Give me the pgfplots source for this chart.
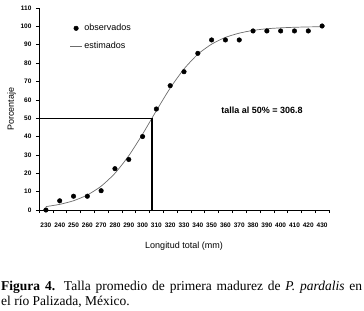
\documentclass[border=0pt]{standalone}
\usepackage{fontspec}
\setmainfont{Liberation Sans}
\newfontfamily\capfont{Liberation Serif}
\usepackage{pgfplots}
\pgfplotsset{compat=1.18}
\begin{document}
\begin{tikzpicture}[x=1bp,y=1bp]
\path[use as bounding box] (0,0) rectangle (364,311);
\begin{axis}[
  at={(39bp,101bp)}, anchor=south west,
  scale only axis, width=290bp, height=202bp,
  xmin=225, xmax=435, ymin=0, ymax=110,
  axis lines*=left,
  axis line style={line width=0.6bp},
  tick align=outside,
  major tick length=3bp,
  tick style={black, line width=0.5bp},
  xtick={225,235,...,435},
  x tick label as interval,
  xticklabels={230,240,250,260,270,280,290,300,310,320,330,340,350,360,370,380,390,400,410,420,430},
  ytick={0,10,...,110},
  /pgf/number format/assume math mode=true,
  ticklabel style={font=\fontsize{6.5bp}{7bp}\selectfont\bfseries},
  xticklabel style={yshift=-6bp},
  yticklabel style={xshift=-1bp},
  xlabel={Longitud total (mm)},
  ylabel={Porcentaje},
  label style={font=\fontsize{9bp}{10bp}\selectfont},
  xlabel style={yshift=-8bp},
  ylabel style={yshift=-2bp},
  legend style={draw=none, fill=none, at={(0.095,0.94)}, anchor=north west,
    font=\fontsize{9bp}{10bp}\selectfont, row sep=6bp,
    legend cell align=left},
  legend image code/.code={\draw[#1] (0bp,0bp) -- (12bp,0bp);},
  clip=false,
]
\addplot[only marks, mark=*, mark size=2.3bp, black,
  legend image code/.code={\draw[black, fill=black] (6bp,0bp) circle (2.3bp);}] coordinates {
 (230,0) (240,5) (250,7.5) (260,7.5) (270,10.5) (280,22.5) (290,27.5) (300,40)
 (310,55) (320,67.7) (330,75.3) (340,85.3) (350,92.6) (360,92.6) (370,92.6)
 (380,97.5) (390,97.5) (400,97.5) (410,97.5) (420,97.5) (430,100.2)
};
\addlegendentry{observados}
\addplot[gray!85!black, line width=0.7bp, smooth, tension=0.4] coordinates {
 (230,1.85) (240,3.07) (250,5.04) (260,8.17) (270,12.97) (280,20.0) (290,29.55)
 (300,41.3) (310,54.1) (320,66.4) (330,76.8) (340,84.8) (350,90.3) (360,94.0)
 (370,96.3) (380,97.8) (390,98.7) (400,99.2) (410,99.5) (420,99.7) (430,99.8)
};
\addlegendentry{estimados}
\addplot[black, line width=1.3bp, forget plot] coordinates {(225,50) (306.8,50) (306.8,0)};
\node[font=\fontsize{9bp}{10bp}\selectfont\bfseries] at (axis cs:386.5,54.5) {talla al 50\% = 306.8};
\end{axis}
\node[anchor=base west, inner sep=0, font=\capfont\fontsize{13.5bp}{15bp}\selectfont] at (1,21)
  {\makebox[361bp][s]{\textbf{Figura 4.} Talla promedio de primera madurez de \textit{P. pardalis} en}};
\node[anchor=base west, inner sep=0, font=\capfont\fontsize{13.5bp}{15bp}\selectfont] at (1,6)
  {el río Palizada, México.};
\end{tikzpicture}
\end{document}
